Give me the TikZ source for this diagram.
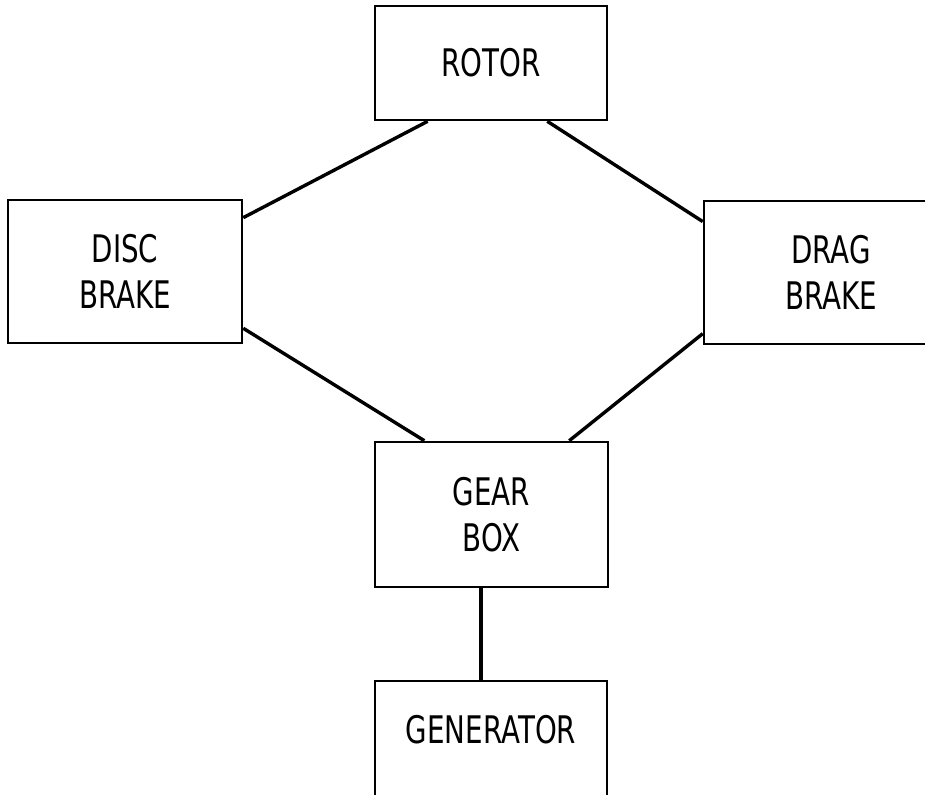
\documentclass[tikz,border=0pt]{standalone}
\usepackage{fontspec}
\setmainfont{DejaVu Sans}[FakeStretch=0.73]
\usetikzlibrary{calc}

\begin{document}
\begin{tikzpicture}[x=0.5pt,y=-0.5pt,
  blk/.style={draw,line width=1.3pt,inner sep=0pt,align=center,
    font=\fontsize{19}{23}\selectfont},
  link/.style={line width=1.7pt}]
\clip (0,0) rectangle (925,794);
%
% boxes (positions in pixels of the sheet)
\node[blk,minimum width=116pt,minimum height=57pt] (rotor) at (491,63) {ROTOR};
\node[blk,minimum width=117pt,minimum height=71.5pt] (disc) at (125,271.5) {DISC\\BRAKE};
\node[blk,minimum width=127pt,minimum height=71.5pt] (drag) at (831,272.5) {DRAG\\BRAKE};
\node[blk,minimum width=116.5pt,minimum height=72.5pt] (gear) at (491.5,514.5) {GEAR\\BOX};
% generator: text sits high, box runs off the sheet
\node[blk,anchor=base,minimum width=116pt,text height=31pt,text depth=34pt] (gen) at (491,743) {GENERATOR};
%
% links
\draw[link] ($(rotor.south west)!0.23!(rotor.south east)$) -- ($(disc.north east)!0.13!(disc.south east)$);
\draw[link] ($(rotor.south west)!0.74!(rotor.south east)$) -- ($(drag.north west)!0.15!(drag.south west)$);
\draw[link] ($(disc.north east)!0.89!(disc.south east)$) -- ($(gear.north west)!0.215!(gear.north east)$);
\draw[link] ($(drag.north west)!0.92!(drag.south west)$) -- ($(gear.north west)!0.83!(gear.north east)$);
\coordinate (gb) at ($(gear.south west)!0.455!(gear.south east)$);
\draw[link] (gb) -- (gb |- gen.north);
\end{tikzpicture}
\end{document}
